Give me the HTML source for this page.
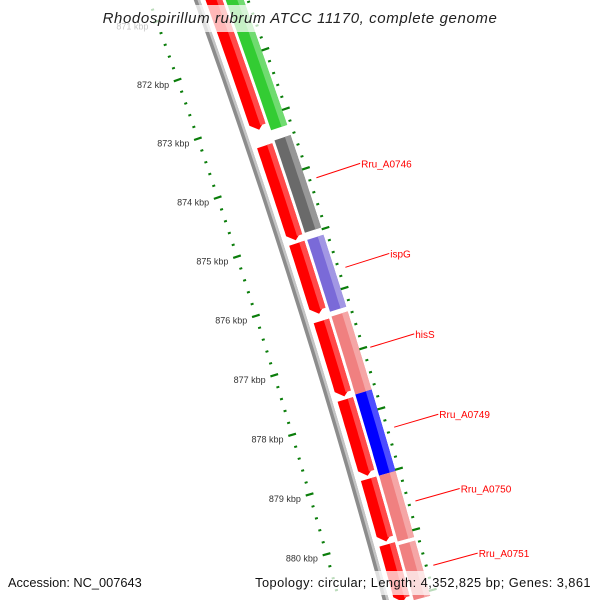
<!DOCTYPE html>
<html><head><meta charset="utf-8"><style>
html,body{margin:0;padding:0;background:#fff;width:600px;height:600px;overflow:hidden;position:relative;}
svg{display:block;font-family:"Liberation Sans","DejaVu Sans",sans-serif;}
</style></head><body>
<svg id="map" width="600" height="600" viewBox="0 0 600 600" style="position:absolute;left:0;top:0"></svg>
<script>
// data
const forwardStarts = [869.5, 873.45, 875.09, 876.39, 877.70, 879.02, 880.11];
const forwardEnds   = [873.18, 875.04, 876.27, 877.65, 878.97, 880.06, 881.06];
const cogStarts = [869.5, 873.42, 875.09, 876.37, 877.67, 879.02, 880.17];
const cogEnds   = [873.25, 874.97, 876.29, 877.67, 879.02, 880.11, 881.08];
const cogColors = ['#33cc33', '#6a6a6a', '#7a6ad8', '#f08080', '#0000ff', '#f08080', '#f08080'];
const cogLabels = ['', 'Rru_A0746', 'ispG', 'hisS', 'Rru_A0749', 'Rru_A0750', 'Rru_A0751'];
const tickLabels = [871, 872, 873, 874, 875, 876, 877, 878, 879, 880];

const svg = document.getElementById('map');
const NS = 'http://www.w3.org/2000/svg';
const CX = -7119, CY = 2632, R0 = 7730, TH0 = -0.3043, K0 = 876, DTH = 0.00804;
function P(k, d) {
  const t = TH0 + (k - K0) * DTH, r = R0 + d;
  return [CX + r * Math.cos(t), CY + r * Math.sin(t)];
}
function mk(tag, attrs, parent) {
  const e = document.createElementNS(NS, tag);
  for (const a in attrs) e.setAttribute(a, attrs[a]);
  (parent || svg).appendChild(e);
  return e;
}
function band(k1, k2, d1, d2, arrow) {
  const pts = [];
  const kb = arrow ? k2 - 0.11 : k2;
  const n = 20;
  for (let i = 0; i <= n; i++) pts.push(P(k1 + (kb - k1) * i / n, d2));
  if (arrow) pts.push(P(k2, (d1 + d2) / 2));
  for (let i = n; i >= 0; i--) pts.push(P(k1 + (kb - k1) * i / n, d1));
  return pts.map(p => p[0].toFixed(1) + ',' + p[1].toFixed(1)).join(' ');
}
function lighten(hex, f) {
  const v = parseInt(hex.slice(1), 16);
  const c = [(v >> 16) & 255, (v >> 8) & 255, v & 255].map(x => Math.round(x + (255 - x) * f));
  return 'rgb(' + c.join(',') + ')';
}

// backbone
const bb = mk('polygon', {points: band(869, 882, 42, 48, false), fill: '#8c8c8c'});


const bb2 = mk('polygon', {points: band(869, 882, 45.5, 48, false), fill: '#c4c4c4'});



// forward strand features
for (let i = 0; i < forwardStarts.length; i++) {
  const g = mk('g', {});
  
  
  mk('polygon', {points: band(forwardStarts[i], forwardEnds[i], 53, 69, true), fill: '#ff0000'}, g);
  mk('polygon', {points: band(forwardStarts[i], forwardEnds[i] - 0.06, 63.5, 69, false), fill: '#ff4a4a'}, g);
}
// COG features
for (let i = 0; i < cogStarts.length; i++) {
  const g = mk('g', {});
  
  
  mk('polygon', {points: band(cogStarts[i], cogEnds[i], 72, 89, false), fill: cogColors[i]}, g);
  mk('polygon', {points: band(cogStarts[i], cogEnds[i], 83, 89, false), fill: lighten(cogColors[i], 0.3)}, g);
}
// ticks
function ring(d, name) {
  const g = mk('g', {stroke: '#0a7d0a'});
  
  
  for (let j = 0; j <= 60; j++) {
    const k = 870 + j * 0.2;
    const major = j % 5 === 0;
    const h = major ? 4 : 1.5;
    const a = P(k, d - h), b = P(k, d + h);
    mk('line', {x1: a[0], y1: a[1], x2: b[0], y2: b[1], 'stroke-width': major ? 2.2 : 2}, g);
  }
}
ring(0, 'inner-tick-ring');
ring(93, 'outer-tick-ring');
// tick labels
tickLabels.forEach(k => {
  const p = P(k, -9);
  const t = mk('text', {x: p[0], y: p[1] + 5, 'text-anchor': 'end', 'font-size': 9, fill: '#333'});
  
  
  t.textContent = k + ' kbp';
});
// feature labels
for (let i = 0; i < cogLabels.length; i++) {
  if (!cogLabels[i]) continue;
  const km = (cogStarts[i] + cogEnds[i]) / 2;
  const a = P(km, 100), b = P(km, 146);
  const l = mk('line', {x1: a[0], y1: a[1], x2: b[0], y2: b[1], stroke: '#ff0000', 'stroke-width': 1});
  
  
  const t = mk('text', {x: b[0] + 1, y: b[1] + 4, 'font-size': 10, fill: '#ff0000'});
  
  
  t.textContent = cogLabels[i];
}
</script>
<svg width="600" height="600" style="position:absolute;left:0;top:0">
  <rect x="104" y="5" width="394" height="27" fill="#fff" fill-opacity="0.72"/>
  <text x="300" y="23" text-anchor="middle" font-size="15" letter-spacing="0.6" font-style="italic" fill="#222" font-family="Liberation Sans, DejaVu Sans, sans-serif">Rhodospirillum rubrum ATCC 11170, complete genome</text>
  <rect x="4" y="571" width="140" height="24" fill="#fff" fill-opacity="0.72"/>
  <text x="8" y="587" font-size="12.8" fill="#111" font-family="Liberation Sans, DejaVu Sans, sans-serif">Accession: NC_007643</text>
  <rect x="258" y="571" width="337" height="24" fill="#fff" fill-opacity="0.72"/>
  <text x="591" y="587" text-anchor="end" font-size="12.8" letter-spacing="0.45" fill="#111" font-family="Liberation Sans, DejaVu Sans, sans-serif">Topology: circular; Length: 4,352,825 bp; Genes: 3,861</text>
</svg>
</body></html>
